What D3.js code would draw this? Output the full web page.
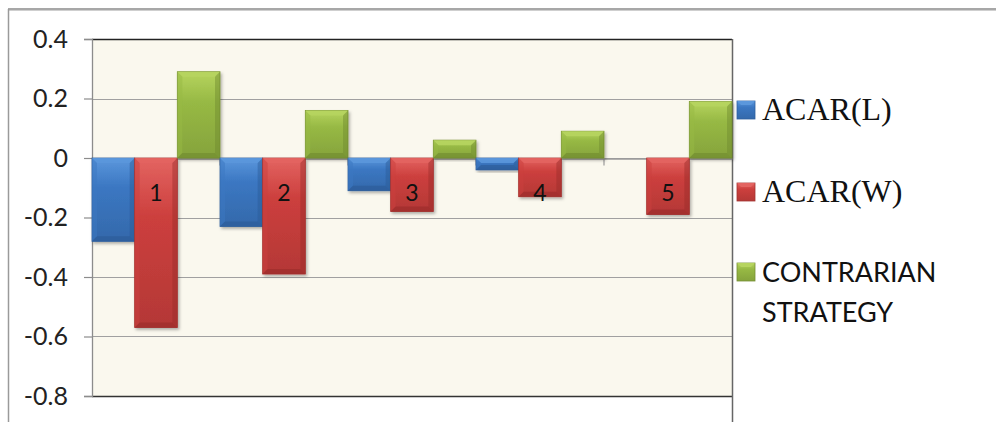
<!DOCTYPE html>
<html>
<head>
<meta charset="utf-8">
<script src="https://cdn.jsdelivr.net/npm/d3@7"></script>
<style>
  html, body { margin: 0; padding: 0; background: #fff; }
  svg { display: block; }
</style>
</head>
<body>
<script>
const width = 996, height = 422;

// data
const categories = ['1', '2', '3', '4', '5'];
const seriesNames = ['ACAR(L)', 'ACAR(W)', 'CONTRARIAN STRATEGY'];
const acarL = [-0.28, -0.23, -0.11, -0.04, 0];
const acarW = [-0.57, -0.39, -0.18, -0.13, -0.19];
const contrarian = [0.29, 0.16, 0.06, 0.09, 0.19];
const yTicks = [0.4, 0.2, 0, -0.2, -0.4, -0.6, -0.8];

const series = [acarL, acarW, contrarian];
const colors = [
  { base: '#3b77c2', light: '#5b97dc', dark: '#2b5a96', edge: '#2e5f9e' },
  { base: '#cc3f3d', light: '#e36461', dark: '#9a2c2a', edge: '#a33230' },
  { base: '#97b944', light: '#b6d45f', dark: '#6f8a2e', edge: '#768f32' }
];

const plot = { left: 92, right: 732, top: 39, bottom: 396 };

const x = d3.scaleBand().domain(categories).range([plot.left, plot.right]).padding(0);
const xs = d3.scaleBand().domain(d3.range(series.length)).range([0, x.bandwidth()]).padding(0);
const y = d3.scaleLinear().domain([-0.8, 0.4]).range([plot.bottom, plot.top]);

const svg = d3.select('body').append('svg')
  .attr('width', width).attr('height', height);

const defs = svg.append('defs');
defs.append('filter').attr('id', 'shadow')
  .attr('x', '-20%').attr('y', '-20%').attr('width', '140%').attr('height', '140%')
  .append('feDropShadow')
  .attr('dx', 1.5).attr('dy', 2).attr('stdDeviation', 1.5)
  .attr('flood-color', '#000').attr('flood-opacity', 0.3);

colors.forEach((c, i) => {
  const g = defs.append('linearGradient').attr('id', `grad${i}`)
    .attr('x1', 0).attr('x2', 0).attr('y1', 0).attr('y2', 1);
  g.append('stop').attr('offset', '0%').attr('stop-color', c.light);
  g.append('stop').attr('offset', '35%').attr('stop-color', c.base);
  g.append('stop').attr('offset', '100%').attr('stop-color', d3.color(c.base).darker(0.35));
});

// outer chart frame (only top and left edges are in view)
svg.append('line').attr('x1', 8).attr('x2', width).attr('y1', 9).attr('y2', 9)
  .attr('stroke', '#8a8a8a').attr('stroke-width', 1.5);
svg.append('line').attr('x1', 8).attr('x2', width).attr('y1', 10.5).attr('y2', 10.5)
  .attr('stroke', '#cfcfcf').attr('stroke-width', 1);
svg.append('line').attr('x1', 8.5).attr('x2', 8.5).attr('y1', 9).attr('y2', height)
  .attr('stroke', '#9a9a9a').attr('stroke-width', 1.5);

// plot background
svg.append('rect')
  .attr('x', plot.left).attr('y', plot.top)
  .attr('width', plot.right - plot.left).attr('height', plot.bottom - plot.top)
  .attr('fill', '#faf8ee');

// gridlines
svg.append('g').selectAll('line').data(yTicks.filter(t => t !== 0.4 && t !== -0.8)).join('line')
  .attr('x1', plot.left).attr('x2', plot.right)
  .attr('y1', d => Math.round(y(d)) + 0.5).attr('y2', d => Math.round(y(d)) + 0.5)
  .attr('stroke', '#a0a0a0').attr('stroke-width', 1.2);

// plot borders
svg.append('line').attr('x1', plot.left).attr('x2', plot.right)
  .attr('y1', plot.top + 0.5).attr('y2', plot.top + 0.5).attr('stroke', '#222').attr('stroke-width', 1.3);
svg.append('line').attr('x1', plot.left).attr('x2', plot.right)
  .attr('y1', plot.bottom + 0.5).attr('y2', plot.bottom + 0.5).attr('stroke', '#333').attr('stroke-width', 1.3);
svg.append('line').attr('x1', plot.right + 0.5).attr('x2', plot.right + 0.5)
  .attr('y1', plot.top).attr('y2', 422).attr('stroke', '#666').attr('stroke-width', 1.5);

// y axis
const yAxis = svg.append('g')
  .attr('transform', `translate(${plot.left},0)`)
  .call(d3.axisLeft(y).tickValues(yTicks).tickSize(8).tickPadding(16)
    .tickFormat(d => d === 0 ? '0' : (d < 0 ? '-' : '') + Math.abs(d).toFixed(1)));
yAxis.select('.domain').attr('stroke', '#8c8c8c').attr('stroke-width', 1.3);
yAxis.selectAll('.tick line').attr('stroke', '#8c8c8c').attr('stroke-width', 1.2);
yAxis.selectAll('.tick text')
  .attr('font-family', 'Lato, "Open Sans", sans-serif')
  .attr('font-size', 25).attr('fill', '#222');

// zero axis with category ticks
const xAxis = svg.append('g')
  .attr('transform', `translate(0,${Math.round(y(0)) + 0.5})`)
  .call(d3.axisBottom(x).tickValues([]).tickSizeOuter(0));
xAxis.select('.domain').attr('stroke', '#9a9a9a').attr('stroke-width', 1.3);
xAxis.selectAll('line.cat').data(categories.slice(1)).join('line').attr('class', 'cat')
  .attr('x1', d => x(d)).attr('x2', d => x(d))
  .attr('y1', 0).attr('y2', 7).attr('stroke', '#9a9a9a').attr('stroke-width', 1.2);

// bars with bevel
function drawBar(g, x0, y0, w, h, c, si) {
  const b = Math.min(5, h / 2);
  g.append('rect').attr('x', x0).attr('y', y0).attr('width', w).attr('height', h)
    .attr('fill', `url(#grad${si})`).attr('stroke', c.edge).attr('stroke-width', 0.8)
    .attr('filter', 'url(#shadow)');
  const poly = pts => pts.map(p => p.join(',')).join(' ');
  // top bevel
  g.append('polygon')
    .attr('points', poly([[x0, y0], [x0 + w, y0], [x0 + w - b, y0 + b], [x0 + b, y0 + b]]))
    .attr('fill', c.light).attr('opacity', 0.9);
  // left bevel
  g.append('polygon')
    .attr('points', poly([[x0, y0], [x0 + b, y0 + b], [x0 + b, y0 + h - b], [x0, y0 + h]]))
    .attr('fill', c.base).attr('opacity', 0.5);
  // right bevel
  g.append('polygon')
    .attr('points', poly([[x0 + w, y0], [x0 + w - b, y0 + b], [x0 + w - b, y0 + h - b], [x0 + w, y0 + h]]))
    .attr('fill', c.dark).attr('opacity', 0.45);
  // bottom bevel
  g.append('polygon')
    .attr('points', poly([[x0, y0 + h], [x0 + w, y0 + h], [x0 + w - b, y0 + h - b], [x0 + b, y0 + h - b]]))
    .attr('fill', c.dark).attr('opacity', 0.6);
}

const barsG = svg.append('g');
categories.forEach((cat, ci) => {
  series.forEach((vals, si) => {
    const v = vals[ci];
    if (v === 0) return;
    const x0 = x(cat) + xs(si);
    const y0 = y(Math.max(0, v));
    const h = Math.abs(y(v) - y(0));
    drawBar(barsG, x0, y0, xs.bandwidth(), h, colors[si], si);
  });
});

// category labels, next to the zero axis
svg.append('g').selectAll('text').data(categories).join('text')
  .attr('x', d => x(d) + x.bandwidth() / 2)
  .attr('y', 201)
  .attr('text-anchor', 'middle')
  .attr('font-family', 'Lato, "Open Sans", sans-serif')
  .attr('font-size', 23).attr('fill', '#111')
  .text(d => d);

// legend
const legendRows = [
  { lines: ['ACAR(L)'], y: 120, font: '"Liberation Serif", "Times New Roman", serif', size: 32 },
  { lines: ['ACAR(W)'], y: 202, font: '"Liberation Serif", "Times New Roman", serif', size: 32 },
  { lines: ['CONTRARIAN', 'STRATEGY'], y: 282, font: 'Lato, "Open Sans", sans-serif', size: 27 }
];
const legend = svg.append('g');
legendRows.forEach((r, i) => {
  const c = colors[i];
  legend.append('rect').attr('x', 737).attr('y', r.y - 19).attr('width', 18).attr('height', 18)
    .attr('fill', `url(#grad${i})`).attr('stroke', c.edge).attr('stroke-width', 0.8);
  legend.append('polygon')
    .attr('points', `737,${r.y - 19} 755,${r.y - 19} 751,${r.y - 15} 741,${r.y - 15}`)
    .attr('fill', c.light);
  const t = legend.append('text')
    .attr('x', 762).attr('y', r.y)
    .attr('font-family', r.font).attr('font-size', r.size).attr('fill', '#111');
  r.lines.forEach((ln, li) => {
    t.append('tspan').attr('x', 762).attr('dy', li === 0 ? 0 : 40).text(ln);
  });
});
</script>
</body>
</html>
